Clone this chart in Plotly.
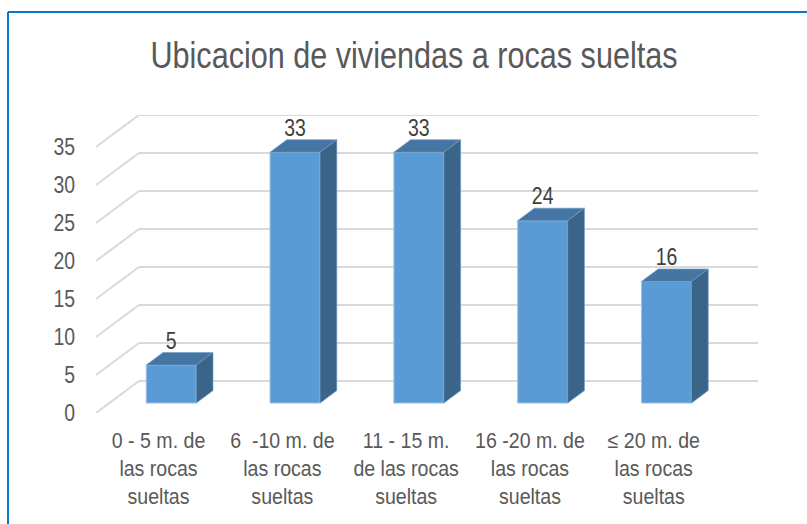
import plotly.graph_objects as go

categories = ["0 - 5 m. de<br>las rocas<br>sueltas", "6  -10 m. de<br>las rocas<br>sueltas",
              "11 - 15 m.<br>de las rocas<br>sueltas", "16 -20 m. de<br>las rocas<br>sueltas",
              "≤ 20 m. de<br>las rocas<br>sueltas"]
values = [5, 33, 33, 24, 16]
y_ticks = [0, 5, 10, 15, 20, 25, 30, 35]
title_text = "Ubicacion de viviendas a rocas sueltas"

FONT = "Liberation Sans, Arial, sans-serif"
DX, DY = 0.347, 4.21          # full-depth offset in axis units
D0, D1 = 0.31, 0.70           # bar position in depth
BW = 0.404
W, H = 807, 524
L, R, T, B = 96, 49, 115, 111
xmax = len(values) + DX
ymax = y_ticks[-1] + DY

fig = go.Figure()

xc = [i + 0.5 + D0 * DX for i in range(len(values))]
base = D0 * DY
edge = "#A5C5E6"

fig.add_trace(go.Bar(x=xc, y=values, base=[base] * len(values), width=BW,
                     marker=dict(color="#5B9BD5", line=dict(color=edge, width=1)),
                     showlegend=False, hoverinfo="skip"))

ddx, ddy = (D1 - D0) * DX, (D1 - D0) * DY
for cx, v in zip(xc, values):
    x0, x1 = cx - BW / 2, cx + BW / 2
    top = v + base
    fig.add_trace(go.Scatter(x=[x0, x1, x1 + ddx, x0 + ddx, x0], y=[top, top, top + ddy, top + ddy, top],
                             mode="lines", fill="toself", fillcolor="#4575A3",
                             line=dict(color="#6F9CC7", width=0.7), showlegend=False, hoverinfo="skip"))
    fig.add_trace(go.Scatter(x=[x1, x1 + ddx, x1 + ddx, x1, x1], y=[base, base + ddy, top + ddy, top, base],
                             mode="lines", fill="toself", fillcolor="#3A6488",
                             line=dict(color="#6F9CC7", width=0.7), showlegend=False, hoverinfo="skip"))

fig.add_trace(go.Scatter(x=xc, y=[v + base + 2.95 for v in values], mode="text",
                         text=[str(v) for v in values], textposition="middle center",
                         textfont=dict(family=FONT, size=24, color="#404040"),
                         showlegend=False, hoverinfo="skip", cliponaxis=False))

shapes = []
grid = dict(color="#D9D9D9", width=2)
for t in y_ticks:
    shapes.append(dict(type="line", xref="x", yref="y", x0=0, y0=t, x1=DX, y1=t + DY, line=grid, layer="below"))
    shapes.append(dict(type="line", xref="x", yref="y", x0=DX, y0=t + DY, x1=xmax, y1=t + DY, line=grid, layer="below"))

pw, ph = W - L - R, H - T - B
bx = (8 - L) / pw
by = 1 + (T - 12) / ph
border = dict(color="#0A78C8", width=2)
shapes.append(dict(type="line", xref="paper", yref="paper", x0=bx, y0=by, x1=(W - L) / pw, y1=by, line=border))
shapes.append(dict(type="line", xref="paper", yref="paper", x0=bx, y0=by, x1=bx, y1=-B / ph, line=border))

fig.update_layout(
    width=W, height=H, margin=dict(l=L, r=R, t=T, b=B, pad=0, autoexpand=False),
    paper_bgcolor="white", plot_bgcolor="white", shapes=shapes,
    title=dict(text=title_text, x=414 / W, xanchor="center", y=1 - 55 / H, yanchor="middle",
               font=dict(family=FONT, size=37, color="#595959")),
    xaxis=dict(range=[0, xmax], tickvals=[i + 0.505 for i in range(len(values))], ticktext=categories,
               showgrid=False, zeroline=False, showline=False, ticks="", ticklabelstandoff=13,
               tickangle=0, tickfont=dict(family=FONT, size=21.5, color="#595959")),
    yaxis=dict(range=[0, ymax], tickvals=y_ticks, ticktext=[str(t) for t in y_ticks],
               showgrid=False, zeroline=False, showline=False, ticks="", ticklabelstandoff=20,
               tickfont=dict(family=FONT, size=24, color="#595959")),
)

# Zero the page margin and condense the real text around its anchor (the original is a narrow face).
post = """
document.documentElement.style.margin = 0; document.body.style.margin = 0;
document.documentElement.style.overflow = 'hidden';
function squeeze(sel, f) {
  document.querySelectorAll(sel).forEach(function (el) {
    var x = el.getAttribute('x') || 0, t = el.getAttribute('transform') || '';
    el.setAttribute('transform', t + ' translate(' + x + ',0) scale(' + f + ',1) translate(' + (-x) + ',0)');
  });
}
squeeze('.gtitle', 0.827);
squeeze('.ytick text', 0.81);
squeeze('.xtick text', 0.91);
squeeze('.textpoint text', 0.81);
"""
fig.write_html("out.html", post_script=post, config={"displayModeBar": False})
